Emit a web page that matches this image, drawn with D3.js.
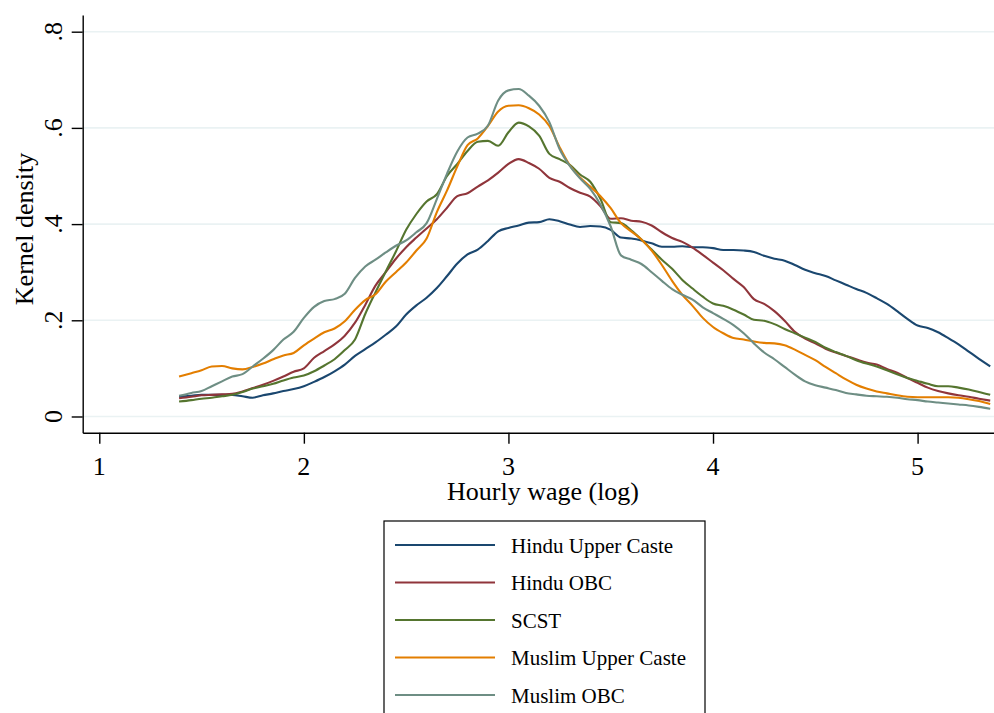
<!DOCTYPE html>
<html>
<head>
<meta charset="utf-8">
<script src="https://cdn.jsdelivr.net/npm/d3@7"></script>
<style>
html, body { margin: 0; padding: 0; background: #ffffff; }
svg { display: block; }
</style>
</head>
<body>
<svg id="chart" width="994" height="713"></svg>
<script>
// ---- data ----
const wage = [1.39,1.45,1.50,1.55,1.60,1.65,1.70,1.75,1.80,1.85,1.90,1.95,2.00,2.05,2.10,2.15,2.20,2.25,2.30,2.35,2.40,2.45,2.50,2.55,2.60,2.65,2.70,2.75,2.80,2.85,2.90,2.95,3.00,3.05,3.10,3.15,3.20,3.25,3.30,3.35,3.40,3.45,3.50,3.55,3.60,3.65,3.70,3.75,3.80,3.85,3.90,3.95,4.00,4.05,4.10,4.15,4.20,4.25,4.30,4.35,4.40,4.45,4.50,4.55,4.60,4.65,4.70,4.75,4.80,4.85,4.90,4.95,5.00,5.05,5.10,5.15,5.20,5.25,5.30,5.355];

const hinduUpperCaste = [.041,.043,.045,.045,.045,.045,.042,.039,.044,.048,.053,.057,.063,.072,.082,.094,.108,.126,.140,.154,.170,.187,.212,.231,.247,.267,.292,.318,.337,.347,.365,.385,.392,.397,.403,.404,.410,.406,.399,.394,.396,.395,.388,.372,.370,.366,.360,.353,.353,.354,.352,.352,.350,.346,.346,.345,.342,.334,.328,.324,.315,.305,.298,.292,.283,.274,.265,.257,.246,.234,.219,.203,.189,.184,.175,.163,.150,.135,.120,.104];

const hinduOBC = [.038,.041,.044,.045,.046,.047,.052,.059,.066,.074,.083,.093,.100,.122,.136,.150,.168,.195,.232,.272,.300,.328,.352,.372,.391,.410,.434,.458,.464,.478,.491,.507,.525,.535,.527,.515,.496,.488,.475,.465,.457,.437,.411,.412,.407,.405,.397,.383,.371,.363,.351,.336,.320,.304,.286,.269,.244,.234,.219,.199,.176,.162,.152,.141,.133,.126,.119,.112,.108,.099,.091,.080,.070,.060,.053,.048,.044,.041,.037,.033];

const scst = [.031,.034,.037,.039,.042,.045,.051,.058,.063,.068,.075,.081,.085,.094,.106,.119,.138,.160,.213,.258,.301,.343,.388,.421,.447,.462,.500,.525,.552,.571,.573,.563,.591,.611,.603,.584,.546,.535,.523,.503,.488,.452,.404,.402,.387,.368,.347,.326,.307,.284,.266,.249,.235,.230,.222,.212,.201,.199,.192,.182,.173,.164,.155,.143,.134,.126,.117,.110,.104,.096,.088,.080,.074,.068,.063,.063,.060,.056,.051,.045];

const muslimUpperCaste = [.083,.090,.096,.104,.105,.100,.098,.103,.110,.119,.127,.132,.148,.162,.175,.183,.198,.222,.242,.254,.280,.300,.320,.345,.370,.425,.470,.520,.564,.578,.604,.634,.646,.647,.641,.628,.604,.560,.522,.497,.478,.458,.433,.402,.385,.368,.345,.315,.282,.253,.230,.205,.186,.173,.163,.160,.156,.153,.152,.148,.139,.128,.117,.103,.090,.077,.066,.058,.052,.048,.044,.041,.040,.040,.040,.040,.039,.036,.032,.026];

const muslimOBC = [.043,.049,.053,.063,.073,.083,.088,.104,.120,.138,.160,.176,.205,.228,.240,.244,.255,.288,.312,.326,.341,.355,.366,.383,.402,.452,.505,.551,.580,.588,.605,.657,.678,.681,.667,.646,.612,.556,.521,.495,.473,.440,.395,.335,.326,.317,.300,.282,.265,.253,.243,.227,.215,.203,.190,.173,.152,.133,.119,.103,.087,.073,.065,.060,.055,.049,.046,.043,.042,.041,.039,.036,.034,.031,.029,.027,.025,.023,.020,.016];

const seriesNames = ["Hindu Upper Caste", "Hindu OBC", "SCST", "Muslim Upper Caste", "Muslim OBC"];
const seriesValues = [hinduUpperCaste, hinduOBC, scst, muslimUpperCaste, muslimOBC];
const seriesColors = ["#1a476f", "#90353b", "#55752f", "#e37e00", "#6e8e84"];

const xTicks = [1, 2, 3, 4, 5];
const xTickLabels = ["1", "2", "3", "4", "5"];
const yTicks = [0, 0.2, 0.4, 0.6, 0.8];
const yTickLabels = ["0", ".2", ".4", ".6", ".8"];
const xTitle = "Hourly wage (log)";
const yTitle = "Kernel density";

// ---- layout ----
const FONT = "'Liberation Serif', 'Times New Roman', serif";
const plotLeft = 82.7, plotRight = 994, plotTop = 15, plotBottom = 432.7;

const svg = d3.select("#chart");

const x = d3.scaleLinear().domain([0.9189, 5.3735]).range([plotLeft, plotRight]);
const y = d3.scaleLinear().domain([-0.0337, 0.8347]).range([plotBottom, plotTop]);

// gridlines
svg.append("g").selectAll("line").data(yTicks).join("line")
  .attr("x1", plotLeft).attr("x2", plotRight)
  .attr("y1", d => y(d)).attr("y2", d => y(d))
  .attr("stroke", "#eaf2f3").attr("stroke-width", 1.6);

// curves
const line = d3.line()
  .x((d, i) => x(wage[i]))
  .y(d => y(d))
  .curve(d3.curveMonotoneX);

svg.append("g").selectAll("path").data(seriesValues).join("path")
  .attr("d", d => line(d))
  .attr("fill", "none")
  .attr("stroke", (d, i) => seriesColors[i])
  .attr("stroke-width", 2.1)
  .attr("stroke-linejoin", "round");

// y axis
const yAxis = svg.append("g").attr("transform", `translate(${plotLeft},0)`)
  .call(d3.axisLeft(y).tickValues(yTicks).tickSize(11).tickSizeOuter(0).tickFormat(""));
yAxis.select(".domain").attr("stroke", "#000").attr("stroke-width", 1.4);
yAxis.selectAll(".tick line").attr("stroke", "#000").attr("stroke-width", 1.4);

svg.append("g").selectAll("text").data(yTicks).join("text")
  .attr("transform", d => `translate(62,${y(d)}) rotate(-90)`)
  .attr("text-anchor", "middle")
  .attr("font-family", FONT).attr("font-size", 26).attr("fill", "#000")
  .text((d, i) => yTickLabels[i]);

// x axis
const xAxis = svg.append("g").attr("transform", `translate(0,${plotBottom})`)
  .call(d3.axisBottom(x).tickValues(xTicks).tickSize(11).tickSizeOuter(0).tickFormat(""));
xAxis.select(".domain").attr("stroke", "#000").attr("stroke-width", 1.4);
xAxis.selectAll(".tick line").attr("stroke", "#000").attr("stroke-width", 1.4);

svg.append("g").selectAll("text").data(xTicks).join("text")
  .attr("x", d => x(d)).attr("y", 475)
  .attr("text-anchor", "middle")
  .attr("font-family", FONT).attr("font-size", 26).attr("fill", "#000")
  .text((d, i) => xTickLabels[i]);

// axis titles
svg.append("text")
  .attr("x", 543).attr("y", 500)
  .attr("text-anchor", "middle")
  .attr("font-family", FONT).attr("font-size", 26).attr("fill", "#000")
  .text(xTitle);

svg.append("text")
  .attr("transform", `translate(33,229) rotate(-90)`)
  .attr("text-anchor", "middle")
  .attr("font-family", FONT).attr("font-size", 26).attr("fill", "#000")
  .text(yTitle);

// legend
const legend = svg.append("g");
legend.append("rect")
  .attr("x", 384).attr("y", 521).attr("width", 321).attr("height", 200)
  .attr("fill", "#fff").attr("stroke", "#000").attr("stroke-width", 1.2);

const rowY = [545, 582.5, 620, 657.5, 695];
const rows = legend.selectAll("g.row").data(seriesNames).join("g").attr("class", "row");
rows.append("line")
  .attr("x1", 395).attr("x2", 495)
  .attr("y1", (d, i) => rowY[i]).attr("y2", (d, i) => rowY[i])
  .attr("stroke", (d, i) => seriesColors[i]).attr("stroke-width", 2.1);
rows.append("text")
  .attr("x", 511).attr("y", (d, i) => rowY[i] + 7.5)
  .attr("font-family", FONT).attr("font-size", 21).attr("fill", "#000")
  .text(d => d);
</script>
</body>
</html>
